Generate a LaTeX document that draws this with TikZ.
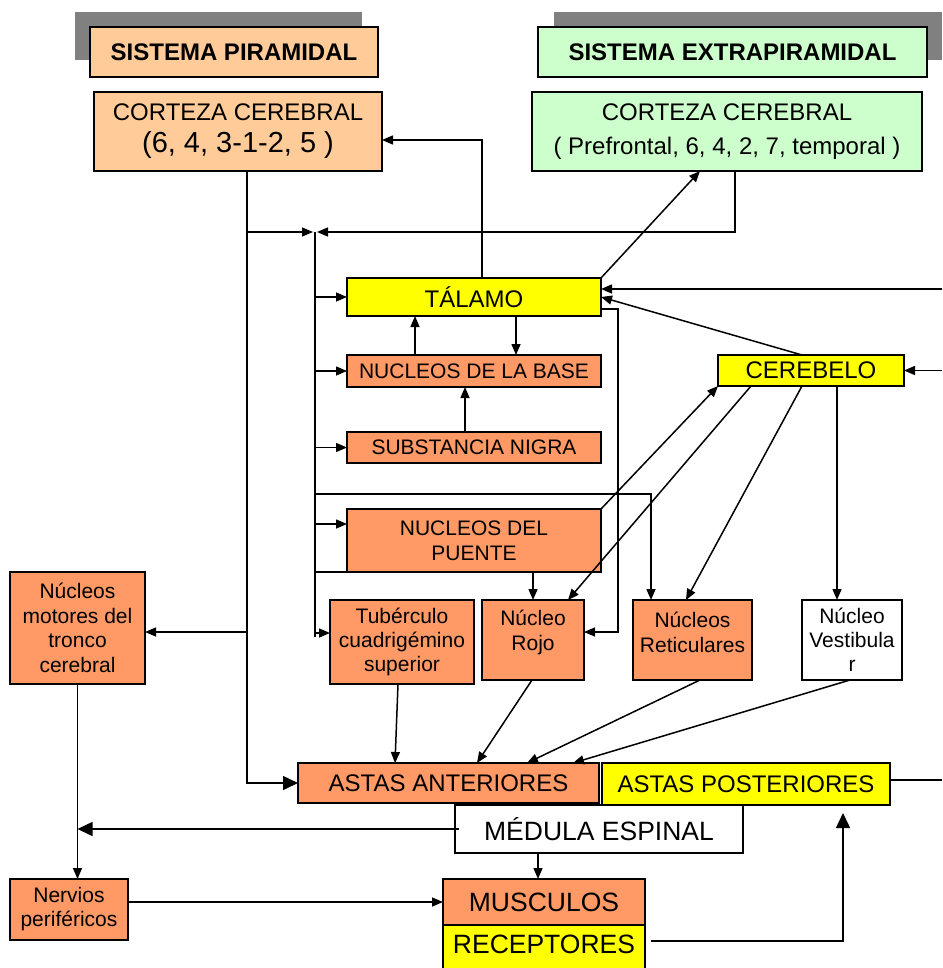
\documentclass[tikz,border=0pt]{standalone}
\usepackage{fontspec}
\setmainfont{Liberation Sans}
\usetikzlibrary{arrows.meta}
\newcommand\fsz[2]{\fontsize{#1}{#2}\selectfont}
\definecolor{peach}{HTML}{FFCC99}
\definecolor{mint}{HTML}{CCFFCC}
\definecolor{salmon}{HTML}{FF9966}
\definecolor{yel}{HTML}{FFFF00}
\definecolor{shadowgray}{HTML}{808080}
\begin{document}
\begin{tikzpicture}[x=1pt,y=-1pt,
  box/.style={draw=black, line width=2pt, rectangle, inner sep=0pt, outer sep=0pt, align=center, text=black},
  sz/.style n args={2}{minimum width=#1pt, minimum height=#2pt},
  ln/.style={line width=1.5pt},
  arr/.style={line width=1.5pt, -{Triangle[length=11pt,width=9pt]}},
  big/.style={line width=1.5pt, -{Triangle[length=15pt,width=14pt]}},
  lbl/.style={inner sep=0pt, align=center, text=black}
]
\useasboundingbox (0,0) rectangle (942,968);
% shadows of the headers
\fill[shadowgray] (75,12) rectangle (362,60);
\fill[shadowgray] (554,12) rectangle (942,60);
% headers
\node[box, fill=peach, sz={288}{50}, font=\fsz{24}{28}\bfseries] (h1) at (234,52) {SISTEMA PIRAMIDAL};
\node[box, fill=mint, sz={389}{50}, font=\fsz{24}{28}\bfseries] (h2) at (732.5,52) {SISTEMA EXTRAPIRAMIDAL};
% cortex
\node[box, fill=peach, sz={288}{79}, font=\fsz{24}{32}] (c1) at (238,131.5) {CORTEZA CEREBRAL\\{\fsz{29}{32}(6, 4, 3-1-2, 5 )}};
\node[box, fill=mint, sz={390}{79}, font=\fsz{24}{34}] (c2) at (727,131.5) {CORTEZA CEREBRAL\\( Prefrontal, 6, 4, 2, 7, temporal )};
% central column
\node[box, fill=yel, sz={254}{38}, font=\fsz{24}{28}] (tal) at (474,297) {TÁLAMO};
\node[box, fill=salmon, sz={254}{32}, font=\fsz{21}{25}] (base) at (474,371) {NUCLEOS DE LA BASE};
\node[box, fill=salmon, sz={254}{31}, font=\fsz{21}{25}] (nigra) at (474,447.5) {SUBSTANCIA NIGRA};
\node[box, fill=salmon, sz={254}{63}, font=\fsz{21}{25}] (puente) at (474,540.5) {NUCLEOS DEL\\PUENTE};
\node[box, fill=yel, sz={186}{31}, font=\fsz{24}{28}] (cereb) at (811,370.5) {CEREBELO};
% row of nuclei
\node[box, fill=salmon, sz={135}{112}, font=\fsz{21}{24.5}] (motores) at (77.5,628) {Núcleos\\motores del\\tronco\\cerebral};
\node[box, fill=salmon, sz={144}{84}, font=\fsz{21}{24}] (tub) at (402,642) {Tubérculo\\cuadrigémino\\superior};
\node[box, fill=salmon, sz={102}{80}] (rojo) at (533,640) {};
\node[lbl, font=\fsz{21}{25}] (rojot) at (533,632) {Núcleo\\Rojo};
\node[box, fill=salmon, sz={119}{80}] (retic) at (692.5,640) {};
\node[lbl, font=\fsz{21}{25}] (retict) at (692.5,632) {Núcleos\\Reticulares};
\node[box, fill=white, sz={100}{80}, font=\fsz{21}{24}] (vest) at (852,640) {Núcleo\\Vestibula\\r};
% spinal cord and periphery
\node[box, fill=salmon, sz={301}{40}, font=\fsz{24}{28}] (ant) at (448.5,783) {ASTAS ANTERIORES};
\node[box, fill=yel, sz={288}{42}, font=\fsz{24}{28}] (post) at (746,784) {ASTAS POSTERIORES};
\node[box, fill=white, sz={288}{48}, font=\fsz{26.5}{30}] (med) at (599,829) {MÉDULA ESPINAL};
\node[box, fill=salmon, sz={202}{46}, font=\fsz{26.5}{30}] (mus) at (544,902) {MUSCULOS};
\node[box, fill=yel, sz={202}{47}, font=\fsz{26.5}{30}, text depth=9pt] (rec) at (544,948.5) {RECEPTORES};
\node[box, fill=salmon, sz={118}{61}, font=\fsz{21}{24}] (nerv) at (69,909.5) {Nervios\\periféricos};
% junction coordinates
\coordinate (bt) at (315,232);
\coordinate (bb) at (315,637);
\coordinate (j1) at (247,232);
\coordinate (j2) at (247,632);
\coordinate (j3) at (315,494);
\coordinate (j4) at (618,632);
\coordinate (r1) at (942,289);
\coordinate (r2) at (942,370.5);
\coordinate (r3) at (942,780);
\coordinate (j5) at (843,813);
\coordinate (pw) at ([yshift=16.5pt]puente.west);
\coordinate (tw) at ([yshift=9pt]tub.west);
\coordinate (ms) at ([xshift=-61pt]med.south);
\coordinate (j6) at ([xshift=6pt,yshift=7.5pt]rec.east);
% pyramidal path
\draw[ln] ([xshift=9pt]c1.south) -- (j1) -- (j2);
\draw[big] (j2) |- (ant.west);
\draw[arr] (j2) -- (j2 -| motores.east);
\draw[arr] (j1) -- ([xshift=-2pt]bt);
\draw[arr] ([xshift=8pt]c2.south) |- ([xshift=2pt]bt);
% bus
\draw[ln] (bt) -- (bb);
\draw[arr] (bt |- tal.west) -- (tal.west);
\draw[arr] (bt |- base.west) -- (base.west);
\draw[arr] (bt |- nigra.west) -- (nigra.west);
\draw[arr] (bt |- pw) -- (pw);
\draw[arr] (bt |- tw) -- (tw);
\draw[arr] (j3) -| ([xshift=-41.5pt]retic.north);
\draw[arr] (bt |- puente.south) -| (rojo.north);
% thalamus connections
\draw[arr] ([yshift=-12pt]tal.east) -| (j4) -- (j4 -| rojo.east);
\draw[arr] ([xshift=8pt]tal.north) |- ([yshift=-8.5pt]c1.east);
\draw[arr] (tal.north east) -- ([xshift=-27pt]c2.south);
\draw[arr] ([xshift=-59pt]base.north) -- ([xshift=-59pt]tal.south);
\draw[arr] ([xshift=42pt]tal.south) -- ([xshift=42pt]base.north);
\draw[arr] ([xshift=-9pt]nigra.north) -- ([xshift=-9pt]base.south);
\draw[arr] (r1) -- (r1 -| tal.east);
% cerebellum connections
\draw[arr] ([xshift=-9pt]cereb.north) -- (tal.east);
\draw[arr] (r2) -- (cereb.east);
\draw[arr] (puente.north east) -- (cereb.south west);
\draw[arr] ([xshift=-60pt]cereb.south) -- ([xshift=35pt]rojo.north);
\draw[arr] ([xshift=-9pt]cereb.south) -- ([xshift=-6.5pt]retic.north);
\draw[arr] ([xshift=26pt]cereb.south) -- ([xshift=-15pt]vest.north);
% to anterior horns
\draw[arr] ([xshift=-4pt]tub.south) -- ([xshift=-53.5pt]ant.north);
\draw[arr] ([xshift=-1pt]rojo.south) -- ([xshift=28.5pt]ant.north);
\draw[arr] ([xshift=7.5pt]retic.south) -- ([xshift=78.5pt]ant.north);
\draw[arr] ([xshift=-2pt]vest.south) -- ([xshift=124.5pt]ant.north);
\draw[ln] (r3 -| post.east) -- (r3);
% periphery
\draw[arr] (motores.south) -- (motores.south |- nerv.north);
\draw[big] ([xshift=4pt]med.west) -- (med.west -| motores.south);
\draw[arr] (ms) -- (ms |- mus.north);
\draw[arr] (nerv.east |- mus.west) -- (mus.west);
\draw[big] (j6) -| (j5);
\end{tikzpicture}
\end{document}
